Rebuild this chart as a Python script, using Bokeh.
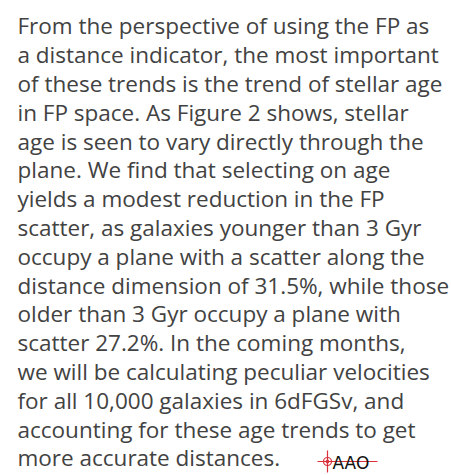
from bokeh.plotting import figure
from bokeh.models import Range1d
from bokeh.core.properties import value
from bokeh.embed import file_html
from bokeh.resources import INLINE

lines = [
    "From the perspective of using the FP as",
    "a distance indicator, the most important",
    "of these trends is the trend of stellar age",
    "in FP space. As Figure 2 shows, stellar",
    "age is seen to vary directly through the",
    "plane. We find that selecting on age",
    "yields a modest reduction in the FP",
    "scatter, as galaxies younger than 3 Gyr",
    "occupy a plane with a scatter along the",
    "distance dimension of 31.5%, while those",
    "older than 3 Gyr occupy a plane with",
    "scatter 27.2%. In the coming months,",
    "we will be calculating peculiar velocities",
    "for all 10,000 galaxies in 6dFGSv, and",
    "accounting for these age trends to get",
    "more accurate distances.",
]
logo_text = "AAO"

W, H = 451, 475
p = figure(frame_width=W, frame_height=H, output_backend="svg", toolbar_location=None,
           x_range=Range1d(0, W), y_range=Range1d(H, 0),
           x_axis_location=None, y_axis_location=None,
           min_border=0, min_border_left=0, min_border_right=0,
           min_border_top=0, min_border_bottom=0)
p.grid.visible = False
p.outline_line_color = None
p.background_fill_color = "white"

x0 = 17
base0 = 25.3
step = 28.8
ys = [base0 + i * step for i in range(len(lines))]
p.text(x=[x0] * len(lines), y=ys, text=lines, text_font=value("Open Sans"),
       text_font_size="22.5px", text_color="#424242", text_baseline="alphabetic",
       text_align="left")

# logo
ly = 461
red = "#d9303b"
p.segment(x0=[317], y0=[ly], x1=[377], y1=[ly], line_color=red, line_width=1.2)
p.segment(x0=[327], y0=[ly - 11], x1=[327], y1=[ly + 11], line_color=red, line_width=1.2)
p.scatter(x=[327], y=[ly], size=8, marker="circle", fill_color=None, line_color=red, line_width=1.2)
p.scatter(x=[327], y=[ly], size=3, marker="circle", fill_color=red, line_color=red)
p.text(x=[332], y=[ly + 1], text=[logo_text], text_font=value("DejaVu Sans"),
       text_font_size="17px", text_color="#111111", text_baseline="alphabetic")

open("out.html", "w").write(file_html(p, INLINE))
